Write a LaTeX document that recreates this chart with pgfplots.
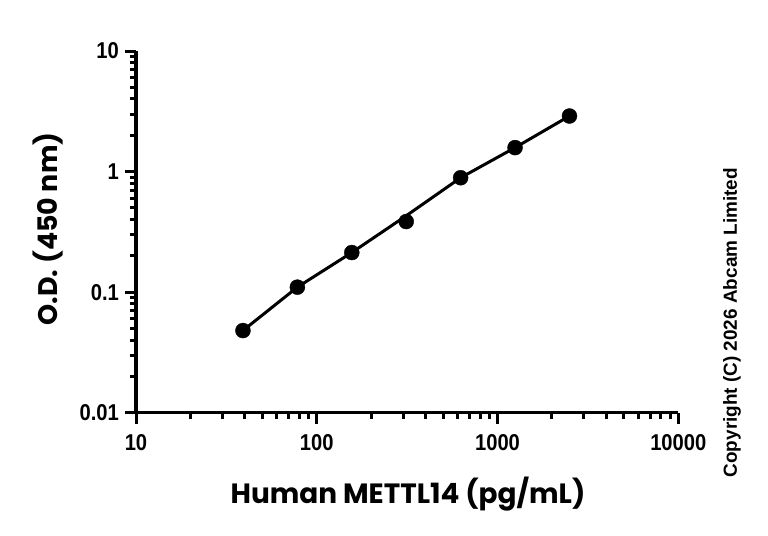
\documentclass[border=0pt]{standalone}
\usepackage{fontspec}
\setmainfont{Liberation Sans}
\newfontfamily\titlefont{Poppins}
\newfontfamily\tickfont{Liberation Sans}[FakeStretch=0.88, UprightFont={Liberation Sans Bold}]
\usepackage{pgfplots}
\pgfplotsset{compat=1.18}

\pgfplotstableread{
x       y
39.0625 0.048
78.125  0.110
156.25  0.213
312.5   0.385
625     0.889
1250    1.58
2500    2.89
}\datatable

\pgfplotstableread{
x       y
39.0625 0.048
78.125  0.110
156.25  0.213
312.5   0.430
625     0.889
1250    1.58
2500    2.89
}\fittable

\begin{document}
\begin{tikzpicture}
\useasboundingbox (0,0) rectangle (768bp,536bp);
\begin{axis}[
  at={(136bp,123.3bp)}, anchor=south west,
  scale only axis, width=542.3bp, height=361.7bp,
  xmode=log, ymode=log,
  xmin=10, xmax=10000, ymin=0.01, ymax=10,
  axis x line*=bottom, axis y line*=left,
  axis line style={line width=3.2bp, black},
  tick align=outside,
  major tick length=11bp, minor tick length=6.5bp,
  every tick/.style={line width=3bp, black},
  /pgf/number format/assume math mode=true,
  xtick={10,100,1000,10000},
  xticklabels={10,100,1000,10000},
  minor xtick={20,30,40,50,60,70,80,90,200,300,400,500,600,700,800,900,2000,3000,4000,5000,6000,7000,8000,9000},
  ytick={0.01,0.1,1,10},
  yticklabels={0.01,0.1,1,10},
  minor ytick={0.02,0.03,0.04,0.05,0.06,0.07,0.08,0.09,0.2,0.3,0.4,0.5,0.6,0.7,0.8,0.9,2,3,4,5,6,7,8,9},
  tick label style={font=\tickfont\fontsize{23}{23}\selectfont, inner sep=0pt},
  xticklabel style={yshift=-11bp},
  yticklabel style={xshift=-6bp},
  xlabel={Human METTL14 (pg/mL)},
  ylabel={O.D. (450 nm)},
  label style={font=\titlefont\bfseries\fontsize{28}{28}\selectfont, inner sep=0pt},
  xlabel style={at={(axis description cs:0.5016,-0.2505)}, anchor=base},
  ylabel style={at={(axis description cs:-0.1623,0.508)}, anchor=center, font=\titlefont\bfseries\fontsize{27}{27}\selectfont},
  clip=false,
]
\addplot [black, line width=3bp, no markers] table [x=x, y=y] {\fittable};
\addplot [black, only marks, mark=*, mark size=7.5bp] table [x=x, y=y] {\datatable};
\node [rotate=90, anchor=center, font=\bfseries\fontsize{19}{19}\selectfont, inner sep=0pt]
  at (axis description cs:1.099,0.249) {Copyright (C) 2026 Abcam Limited};
\end{axis}
\end{tikzpicture}
\end{document}
